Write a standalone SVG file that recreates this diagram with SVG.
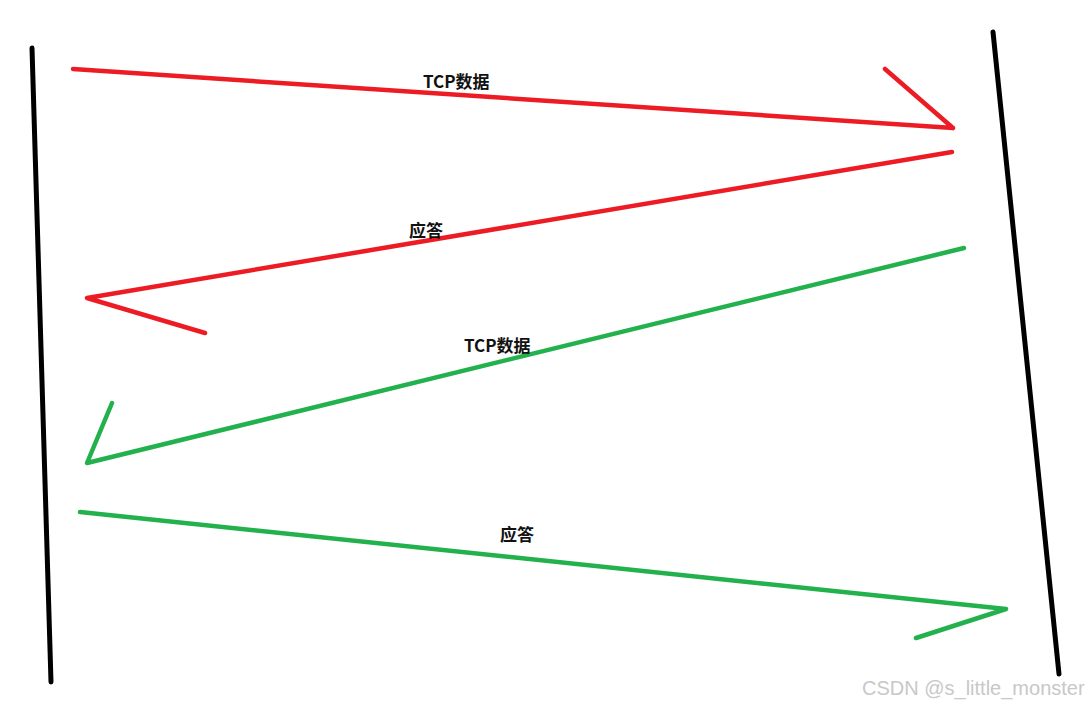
<svg xmlns="http://www.w3.org/2000/svg" width="1089" height="705" viewBox="0 0 1089 705">
<style>
.ln{fill:none;stroke-width:4.5;stroke-linecap:round;stroke-linejoin:round}
.blk{stroke:#000;stroke-width:5}
.red{stroke:#ED1C24}
.grn{stroke:#22B14C}
.lbl{font-family:"Noto Sans CJK SC","Microsoft YaHei",sans-serif;font-weight:bold;font-size:17px;fill:#111}
.wm{font-family:"Liberation Sans",Arial,sans-serif;font-size:20px;fill:#c8c8c8}
</style>
<rect width="1089" height="705" fill="#fff"/>
<g id="left-lifeline"><path class="ln blk" d="M32,48 L51,682"/></g>
<g id="right-lifeline"><path class="ln blk" d="M993,32 L1059,674"/></g>
<g id="connectors">
<path class="ln red" d="M73,69 L953,128 M885,69 L953,128"/>
<path class="ln red" d="M952,152 L87,298 L205,333"/>
<path class="ln grn" d="M964,248 L87,463 L112,403"/>
<path class="ln grn" d="M80,512 L1006,609 L916,638"/>
</g>
<g id="labels">
<text class="lbl" x="423" y="88">TCP数据</text>
<text class="lbl" x="409" y="237">应答</text>
<text class="lbl" x="464" y="352">TCP数据</text>
<text class="lbl" x="500" y="541">应答</text>
</g>
<text class="wm" x="862" y="695">CSDN @s_little_monster</text>
</svg>
